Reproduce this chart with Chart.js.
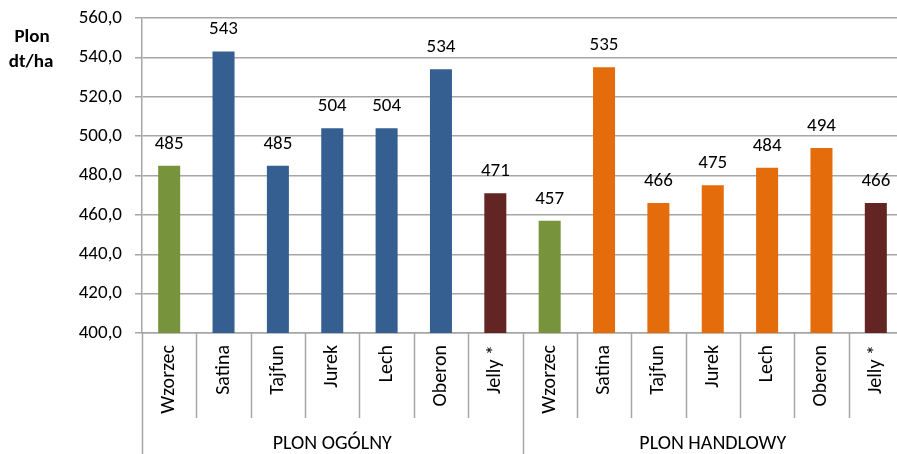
<!DOCTYPE html>
<html lang="pl">
<head>
    <meta charset="UTF-8">
    <title>Plon dt/ha</title>
    <style>
        html, body {
            margin: 0;
            padding: 0;
            overflow: hidden;
            background: #fff;
        }
        #wrap {
            width: 910px;
            height: 454px;
        }
    </style>
</head>
<body>
    <div id="wrap"><canvas id="plonChart"></canvas></div>
    <script src="https://cdn.jsdelivr.net/npm/chart.js@4.4.0/dist/chart.umd.min.js"></script>
    <script>
        // dane
        const varieties = ['Wzorzec', 'Satina', 'Tajfun', 'Jurek', 'Lech', 'Oberon', 'Jelly *'];
        const groups = ['PLON OGÓLNY', 'PLON HANDLOWY'];
        const plonOgolny = [485, 543, 485, 504, 504, 534, 471];
        const plonHandlowy = [457, 535, 466, 475, 484, 494, 466];
        const yTicks = [400, 420, 440, 460, 480, 500, 520, 540, 560];

        const green = '#77933C';
        const blue = '#365F91';
        const orange = '#E46C0A';
        const darkRed = '#632523';
        const gridColor = '#a6a6a6';
        const fontFamily = 'Carlito, Lato, sans-serif';

        const labels = varieties.concat(varieties);
        const values = plonOgolny.concat(plonHandlowy);
        const colors = labels.map((name, i) => {
            if (name === 'Wzorzec') return green;
            if (name === 'Jelly *') return darkRed;
            return i < varieties.length ? blue : orange;
        });

        // etykiety wartości nad słupkami
        const valueLabels = {
            id: 'valueLabels',
            afterDatasetsDraw(chart) {
                const ctx = chart.ctx;
                const meta = chart.getDatasetMeta(0);
                ctx.save();
                ctx.font = '19px ' + fontFamily;
                ctx.fillStyle = '#000';
                ctx.textAlign = 'center';
                ctx.textBaseline = 'alphabetic';
                meta.data.forEach((bar, i) => {
                    ctx.fillText(String(values[i]), bar.x, bar.y - 17);
                });
                ctx.restore();
            }
        };

        // linie podziału kategorii, grupy i opis osi Y
        const groupAxis = {
            id: 'groupAxis',
            afterDraw(chart) {
                const ctx = chart.ctx;
                const x = chart.scales.x;
                const area = chart.chartArea;
                const n = labels.length;
                const step = (x.right - x.left) / n;
                ctx.save();
                ctx.strokeStyle = gridColor;
                ctx.lineWidth = 1.5;
                for (let i = 0; i <= n; i++) {
                    const px = Math.round(x.left + i * step) + 0.5;
                    const isGroup = i % varieties.length === 0;
                    ctx.beginPath();
                    ctx.moveTo(px, area.bottom);
                    ctx.lineTo(px, isGroup ? chart.height : area.bottom + 85);
                    ctx.stroke();
                }
                ctx.font = '20px ' + fontFamily;
                ctx.fillStyle = '#000';
                ctx.textAlign = 'center';
                ctx.textBaseline = 'middle';
                groups.forEach((g, gi) => {
                    const cx = x.left + (gi * varieties.length + varieties.length / 2) * step;
                    ctx.fillText(g, cx, 444);
                });
                ctx.font = 'bold 19px ' + fontFamily;
                ctx.fillText('Plon', 32, 37);
                ctx.fillText('dt/ha', 31, 62);
                ctx.restore();
            }
        };

        new Chart(document.getElementById('plonChart'), {
            type: 'bar',
            data: {
                labels: labels,
                datasets: [{
                    data: values,
                    backgroundColor: colors,
                    borderWidth: 0,
                    barPercentage: 0.45,
                    categoryPercentage: 0.9
                }]
            },
            plugins: [valueLabels, groupAxis],
            options: {
                responsive: true,
                maintainAspectRatio: false,
                animation: false,
                layout: {
                    padding: { top: 18, right: 7, left: 0, bottom: 0 }
                },
                plugins: {
                    legend: { display: false },
                    tooltip: { enabled: false }
                },
                scales: {
                    x: {
                        grid: { display: false, drawTicks: false },
                        border: { color: gridColor, width: 1.5 },
                        ticks: {
                            color: '#000',
                            font: { family: fontFamily, size: 20 },
                            minRotation: 90,
                            maxRotation: 90,
                            autoSkip: false,
                            padding: 12
                        },
                        afterFit(scale) {
                            scale.height = 121;
                            scale.paddingLeft = 0;
                            scale.paddingRight = 0;
                        }
                    },
                    y: {
                        min: 400,
                        max: 560,
                        afterBuildTicks(scale) {
                            scale.ticks = yTicks.map(v => ({ value: v }));
                        },
                        grid: {
                            color: gridColor,
                            lineWidth: 1.5,
                            drawTicks: true,
                            tickLength: 7
                        },
                        border: { color: gridColor, width: 1.5 },
                        ticks: {
                            color: '#000',
                            font: { family: fontFamily, size: 19 },
                            padding: 13,
                            callback: v => v.toFixed(1).replace('.', ',')
                        },
                        afterFit(scale) {
                            scale.width = 142;
                            scale.paddingTop = 0;
                            scale.paddingBottom = 0;
                        }
                    }
                }
            }
        });
    </script>
</body>
</html>
